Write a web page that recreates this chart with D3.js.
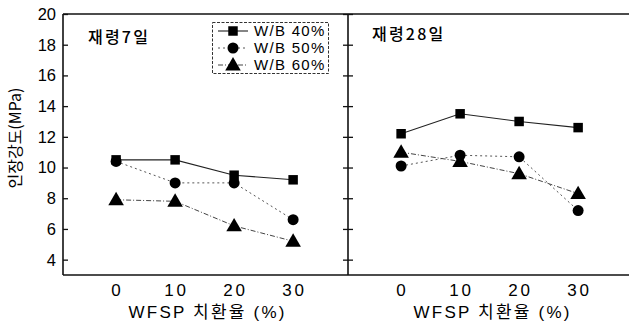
<!DOCTYPE html>
<html>
<head>
<meta charset="utf-8">
<script src="https://cdn.jsdelivr.net/npm/d3@7"></script>
<style>
  html, body { margin: 0; padding: 0; background: #fff; }
  svg { display: block; }
  text { font-family: "Liberation Sans", Arial, sans-serif; fill: #000; }
  .kr { font-family: "Noto Sans CJK KR", "Liberation Sans", sans-serif; }
  .mix { font-family: "Liberation Sans", "Noto Sans CJK KR", sans-serif; }
</style>
</head>
<body>
<svg id="chart" width="629" height="325"></svg>
<script>
// WFSP replacement ratio (%)
const replacement = [0, 10, 20, 30];
const seriesNames = ["W/B 40%", "W/B 50%", "W/B 60%"];
const yTicks = [4, 6, 8, 10, 12, 14, 16, 18, 20];
const xTicks = [0, 10, 20, 30];

// Tensile strength (MPa) at 7 days
const day7_wb40 = [10.5, 10.5, 9.5, 9.2];
const day7_wb50 = [10.4, 9.0, 9.0, 6.6];
const day7_wb60 = [7.9, 7.8, 6.2, 5.2];

// Tensile strength (MPa) at 28 days
const day28_wb40 = [12.2, 13.5, 13.0, 12.6];
const day28_wb50 = [10.1, 10.8, 10.7, 7.2];
const day28_wb60 = [11.0, 10.4, 9.6, 8.3];

const panels = [
  { title: "재령7일", series: [day7_wb40, day7_wb50, day7_wb60], x0: 63, x1: 348, tx: 88, ty: 43 },
  { title: "재령28일", series: [day28_wb40, day28_wb50, day28_wb60], x0: 348, x1: 633, tx: 372, ty: 40 }
];

const styles = [
  { dash: null, width: 1.1, color: "#222", marker: "square" },
  { dash: "2,3", width: 1, color: "#555", marker: "circle" },
  { dash: "5,2,1,2", width: 1, color: "#444", marker: "triangle" }
];

const svg = d3.select("#chart");
const yTop = 14, yBottom = 275;
const y = d3.scaleLinear().domain([3, 20]).range([yBottom, yTop]);

const symbolFor = {
  square: d3.symbol().type(d3.symbolSquare).size(90),
  circle: d3.symbol().type(d3.symbolCircle).size(95),
  triangle: d3.symbol().type(d3.symbolTriangle).size(105)
};

panels.forEach((p, pi) => {
  const x = d3.scaleLinear().domain([-9, 39.3]).range([p.x0, p.x1]);
  const g = svg.append("g");

  // frame: top, bottom, left
  g.append("line").attr("x1", p.x0).attr("x2", Math.min(p.x1, 629)).attr("y1", yTop).attr("y2", yTop)
    .attr("stroke", "#111").attr("stroke-width", 1.6);
  g.append("line").attr("x1", p.x0).attr("x2", Math.min(p.x1, 629)).attr("y1", yBottom).attr("y2", yBottom)
    .attr("stroke", "#111").attr("stroke-width", 1.6);
  g.append("line").attr("x1", p.x0).attr("x2", p.x0).attr("y1", yTop).attr("y2", yBottom)
    .attr("stroke", "#111").attr("stroke-width", 1.6);

  // inward y ticks on the left edge
  const la = g.append("g").attr("transform", `translate(${p.x0},0)`)
    .call(d3.axisRight(y).tickValues(yTicks).tickSize(5).tickFormat(""));
  la.select(".domain").remove();
  la.selectAll(".tick line").attr("stroke", "#111").attr("stroke-width", 1.3);

  if (pi === 0) {
    // tick labels on the outer axis
    g.selectAll(".ylab").data(yTicks).join("text")
      .attr("x", p.x0 - 7).attr("y", d => y(d))
      .attr("dy", "0.36em").attr("text-anchor", "end")
      .attr("font-size", 16.5).text(d => d);
    // inward ticks on the divider, right side of the left panel
    const ra = g.append("g").attr("transform", `translate(${p.x1},0)`)
      .call(d3.axisLeft(y).tickValues(yTicks).tickSize(5).tickFormat(""));
    ra.select(".domain").remove();
    ra.selectAll(".tick line").attr("stroke", "#111").attr("stroke-width", 1.3);
  }

  // x tick labels
  g.selectAll(".xlab").data(xTicks).join("text")
    .attr("x", d => x(d) + 1.5).attr("y", 296)
    .attr("text-anchor", "middle").attr("font-size", 17)
    .attr("letter-spacing", 3).text(d => d);

  // x axis title
  g.append("text").attr("class", "mix")
    .attr("x", (x(0) + x(30)) / 2 + 3).attr("y", 318)
    .attr("text-anchor", "middle").attr("font-size", 17)
    .attr("letter-spacing", 2.2).text("WFSP 치환율 (%)");

  // panel title
  g.append("text").attr("class", "kr")
    .attr("x", p.tx).attr("y", p.ty).attr("font-size", 16).attr("font-weight", 500)
    .attr("letter-spacing", 2.2).text(p.title);

  // series lines and markers
  p.series.forEach((vals, si) => {
    const st = styles[si];
    const line = d3.line().x((d, i) => x(replacement[i])).y(d => y(d));
    g.append("path").datum(vals).attr("d", line)
      .attr("fill", "none").attr("stroke", st.color).attr("stroke-width", st.width)
      .attr("stroke-dasharray", st.dash);
    g.selectAll(null).data(vals).join("path")
      .attr("d", symbolFor[st.marker])
      .attr("transform", (d, i) => `translate(${x(replacement[i])},${y(d) + (st.marker === "triangle" ? 1 : 0)})`)
      .attr("fill", "#000");
  });
});

// y axis title
svg.append("text").attr("class", "kr")
  .attr("transform", "translate(21,138) rotate(-90)")
  .attr("text-anchor", "middle").attr("font-size", 16)
  .text("인장강도(MPa)");

// legend
const lg = svg.append("g");
lg.append("rect").attr("x", 212.5).attr("y", 22.5).attr("width", 116).attr("height", 51)
  .attr("fill", "#fff").attr("stroke", "#333").attr("stroke-width", 1).attr("stroke-dasharray", "3,1.5");
seriesNames.forEach((name, si) => {
  const st = styles[si];
  const cy = 31 + si * 17;
  lg.append("line").attr("x1", 218).attr("x2", 248).attr("y1", cy).attr("y2", cy)
    .attr("stroke", st.color).attr("stroke-width", st.width).attr("stroke-dasharray", st.dash);
  lg.append("path").attr("d", symbolFor[st.marker])
    .attr("transform", `translate(233,${cy + (st.marker === "triangle" ? 1 : 0)})`).attr("fill", "#000");
  lg.append("text").attr("x", 254).attr("y", cy).attr("dy", "0.36em")
    .attr("font-size", 15).attr("letter-spacing", 1.3).text(name);
});
</script>
</body>
</html>
